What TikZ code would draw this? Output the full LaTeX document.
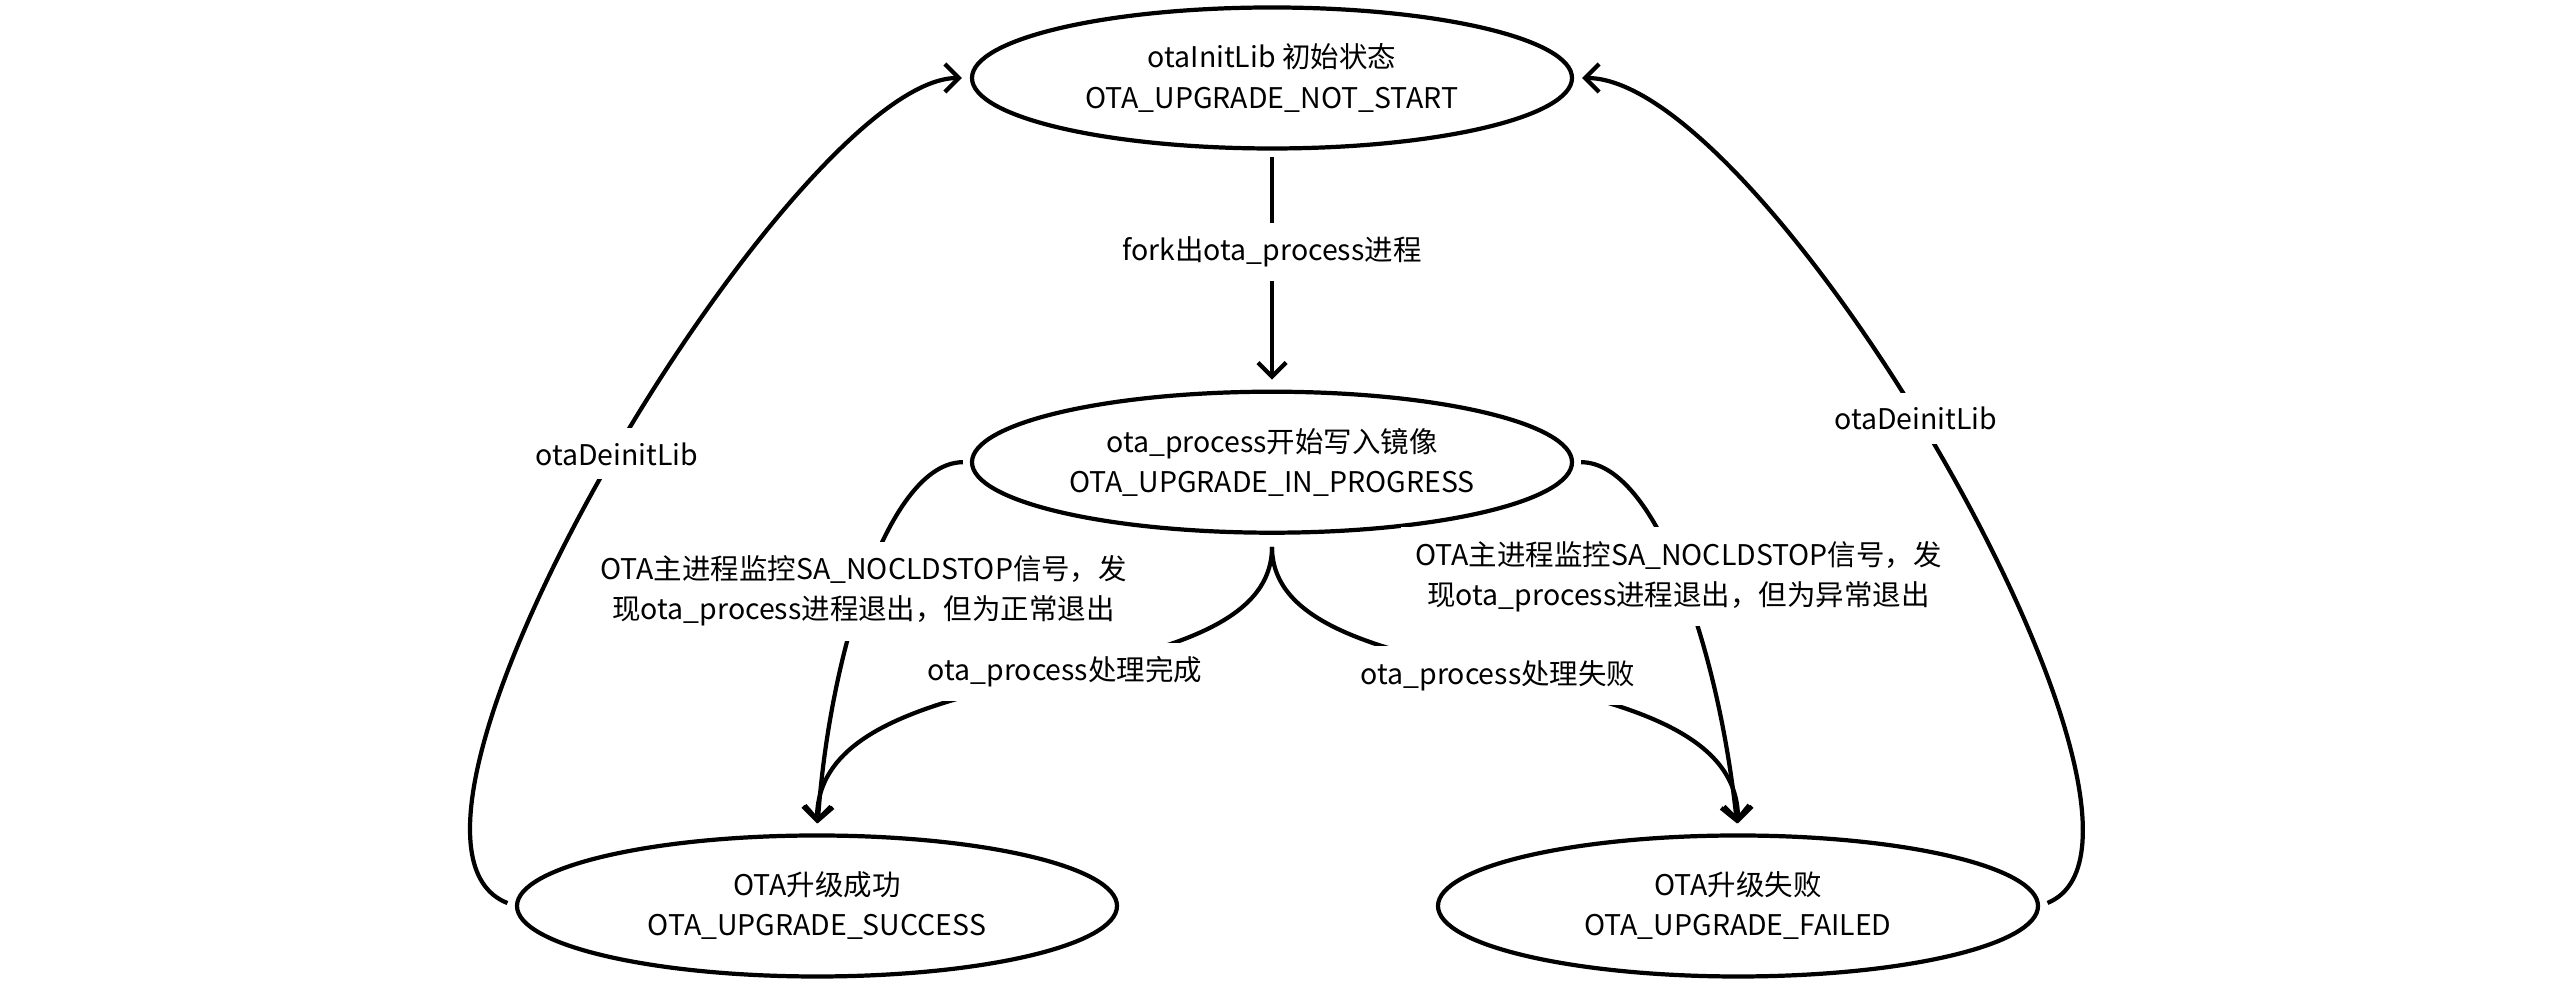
\documentclass[tikz,border=0pt]{standalone}
\usepackage{fontspec}
\setmainfont{Noto Sans CJK SC}
\usetikzlibrary{shapes.geometric, arrows.meta, positioning}

\begin{document}
\begin{tikzpicture}[
    state/.style={ellipse, draw, line width=1.2pt, minimum width=6cm, minimum height=1.41cm, inner sep=0pt, align=center},
    conn/.style={line width=1.2pt, -{Straight Barb[length=4pt, width=8pt]}},
    lbl/.style={fill=white, inner sep=4pt, align=center},
    every node/.style={font=\fontsize{8.1pt}{11.4pt}\selectfont}
]
    \useasboundingbox (0,0) rectangle (25.6,10.08);

    % States
    \node[state] (init) at (12.72,9.30) {otaInitLib 初始状态\\OTA\_UPGRADE\_NOT\_START};
    \node[state, below=2.39cm of init] (prog) {ota\_process开始写入镜像\\OTA\_UPGRADE\_IN\_PROGRESS};
    \node[state] (succ) at (8.17,1.02) {OTA升级成功\\OTA\_UPGRADE\_SUCCESS};
    \node[state] (fail) at (17.38,1.02) {OTA升级失败\\OTA\_UPGRADE\_FAILED};

    % Arrows
    \draw[conn, shorten <=0.06cm, shorten >=0.1cm] (init) -- node[lbl, pos=0.425] {fork出ota\_process进程} (prog);
    \draw[conn, shorten <=0.08cm, shorten >=0.08cm] (succ.west) .. controls +(-1.78,0.7) and +(-1.75,0) .. node[lbl, pos=0.51] {otaDeinitLib} (init.west);
    \draw[conn, shorten <=0.08cm, shorten >=0.08cm] (fail.east) .. controls +(1.7,0.7) and +(1.95,0) .. node[lbl, pos=0.54] {otaDeinitLib} (init.east);
    \draw[conn, shorten <=0.07cm, shorten >=0.1cm] (prog.west) .. controls +(-0.8,0) and +(0.13,1.85) .. node[lbl, pos=0.53] {OTA主进程监控SA\_NOCLDSTOP信号，发\\现ota\_process进程退出，但为正常退出} (succ.north);
    \draw[conn, shorten <=0.07cm, shorten >=0.1cm] (prog.east) .. controls +(0.8,0) and +(-0.2,1.9) .. node[lbl, pos=0.5] {OTA主进程监控SA\_NOCLDSTOP信号，发\\现ota\_process进程退出，但为异常退出} (fail.north);
    \draw[conn, shorten <=0.12cm, shorten >=0.1cm] (prog.south) .. controls +(0,-1.72) and +(0,1.9) .. node[lbl, pos=0.47] {ota\_process处理完成} (succ.north);
    \draw[conn, shorten <=0.12cm, shorten >=0.1cm] (prog.south) .. controls +(0,-1.72) and +(0,1.9) .. node[lbl, pos=0.49] {ota\_process处理失败} (fail.north);
\end{tikzpicture}
\end{document}
